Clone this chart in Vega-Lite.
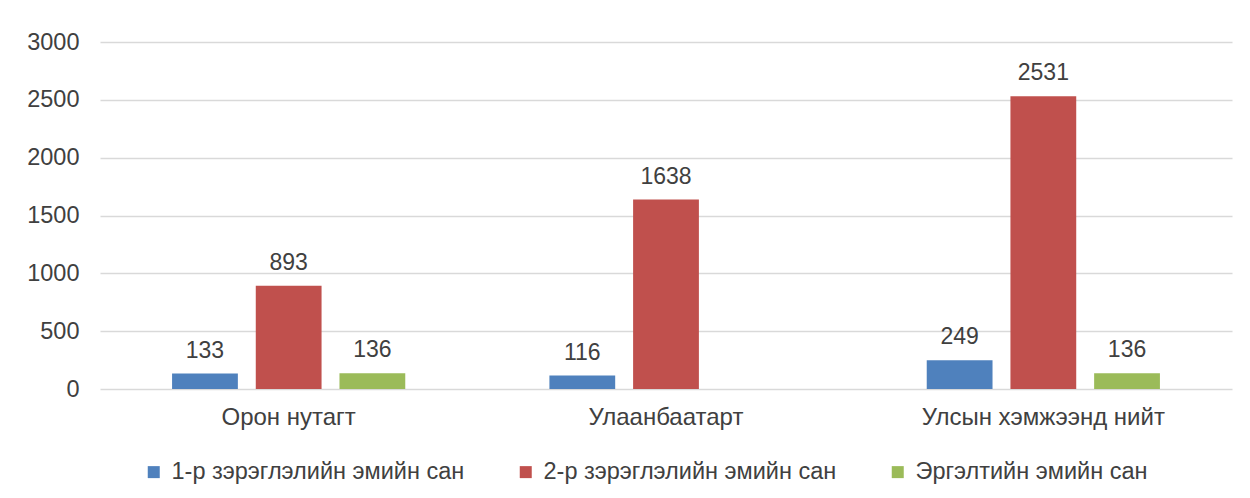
{
  "$schema": "https://vega.github.io/schema/vega-lite/v6.json",
  "width": 1132,
  "height": 347,
  "autosize": {"type": "none"},
  "padding": {"left": 100, "top": 42, "right": 18, "bottom": 109},
  "background": "white",
  "config": {
    "view": {"stroke": null},
    "font": "Liberation Sans",
    "axis": {"labelFont": "Liberation Sans", "labelColor": "#404040"}
  },
  "data": {
    "values": [
      {"region": "Орон нутагт", "type": "1-р зэрэглэлийн эмийн сан", "value": 133},
      {"region": "Орон нутагт", "type": "2-р зэрэглэлийн эмийн сан", "value": 893},
      {"region": "Орон нутагт", "type": "Эргэлтийн эмийн сан", "value": 136},
      {"region": "Улаанбаатарт", "type": "1-р зэрэглэлийн эмийн сан", "value": 116},
      {"region": "Улаанбаатарт", "type": "2-р зэрэглэлийн эмийн сан", "value": 1638},
      {"region": "Улсын хэмжээнд нийт", "type": "1-р зэрэглэлийн эмийн сан", "value": 249},
      {"region": "Улсын хэмжээнд нийт", "type": "2-р зэрэглэлийн эмийн сан", "value": 2531},
      {"region": "Улсын хэмжээнд нийт", "type": "Эргэлтийн эмийн сан", "value": 136}
    ]
  },
  "encoding": {
    "x": {
      "field": "region", "type": "nominal",
      "sort": ["Орон нутагт", "Улаанбаатарт", "Улсын хэмжээнд нийт"],
      "scale": {"paddingInner": 0.382, "paddingOuter": 0.191},
      "axis": {"title": null, "labelAngle": 0, "labelFontSize": 24, "labelPadding": 16, "labelLimit": 0, "domain": false, "ticks": false}
    },
    "xOffset": {
      "field": "type", "type": "nominal",
      "sort": ["1-р зэрэглэлийн эмийн сан", "2-р зэрэглэлийн эмийн сан", "Эргэлтийн эмийн сан"],
      "scale": {"paddingInner": 0.214, "paddingOuter": 0}
    },
    "y": {
      "field": "value", "type": "quantitative",
      "scale": {"domain": [0, 3000], "nice": false},
      "axis": {"title": null, "format": "d", "values": [0, 500, 1000, 1500, 2000, 2500, 3000], "labelFontSize": 23.5, "labelPadding": 21, "domain": false, "ticks": false, "gridColor": "#d9d9d9", "gridWidth": 1.3}
    }
  },
  "layer": [
    {
      "mark": {"type": "bar"},
      "encoding": {
        "color": {
          "field": "type", "type": "nominal",
          "sort": ["1-р зэрэглэлийн эмийн сан", "2-р зэрэглэлийн эмийн сан", "Эргэлтийн эмийн сан"],
          "scale": {"domain": ["1-р зэрэглэлийн эмийн сан", "2-р зэрэглэлийн эмийн сан", "Эргэлтийн эмийн сан"], "range": ["#4F81BD", "#C0504D", "#9BBB59"]},
          "legend": {
            "title": null, "orient": "none", "direction": "horizontal",
            "legendX": 42, "legendY": 418,
            "symbolType": "square", "symbolSize": 144, "symbolStrokeWidth": 0,
            "labelFontSize": 23.5, "labelColor": "#404040", "labelFont": "Liberation Sans", "labelLimit": 0,
            "columnPadding": 49, "labelOffset": 6
          }
        }
      }
    },
    {
      "mark": {"type": "text", "baseline": "alphabetic", "dy": -16, "fontSize": 23, "color": "#404040"},
      "encoding": {"text": {"field": "value", "type": "quantitative"}}
    }
  ]
}
